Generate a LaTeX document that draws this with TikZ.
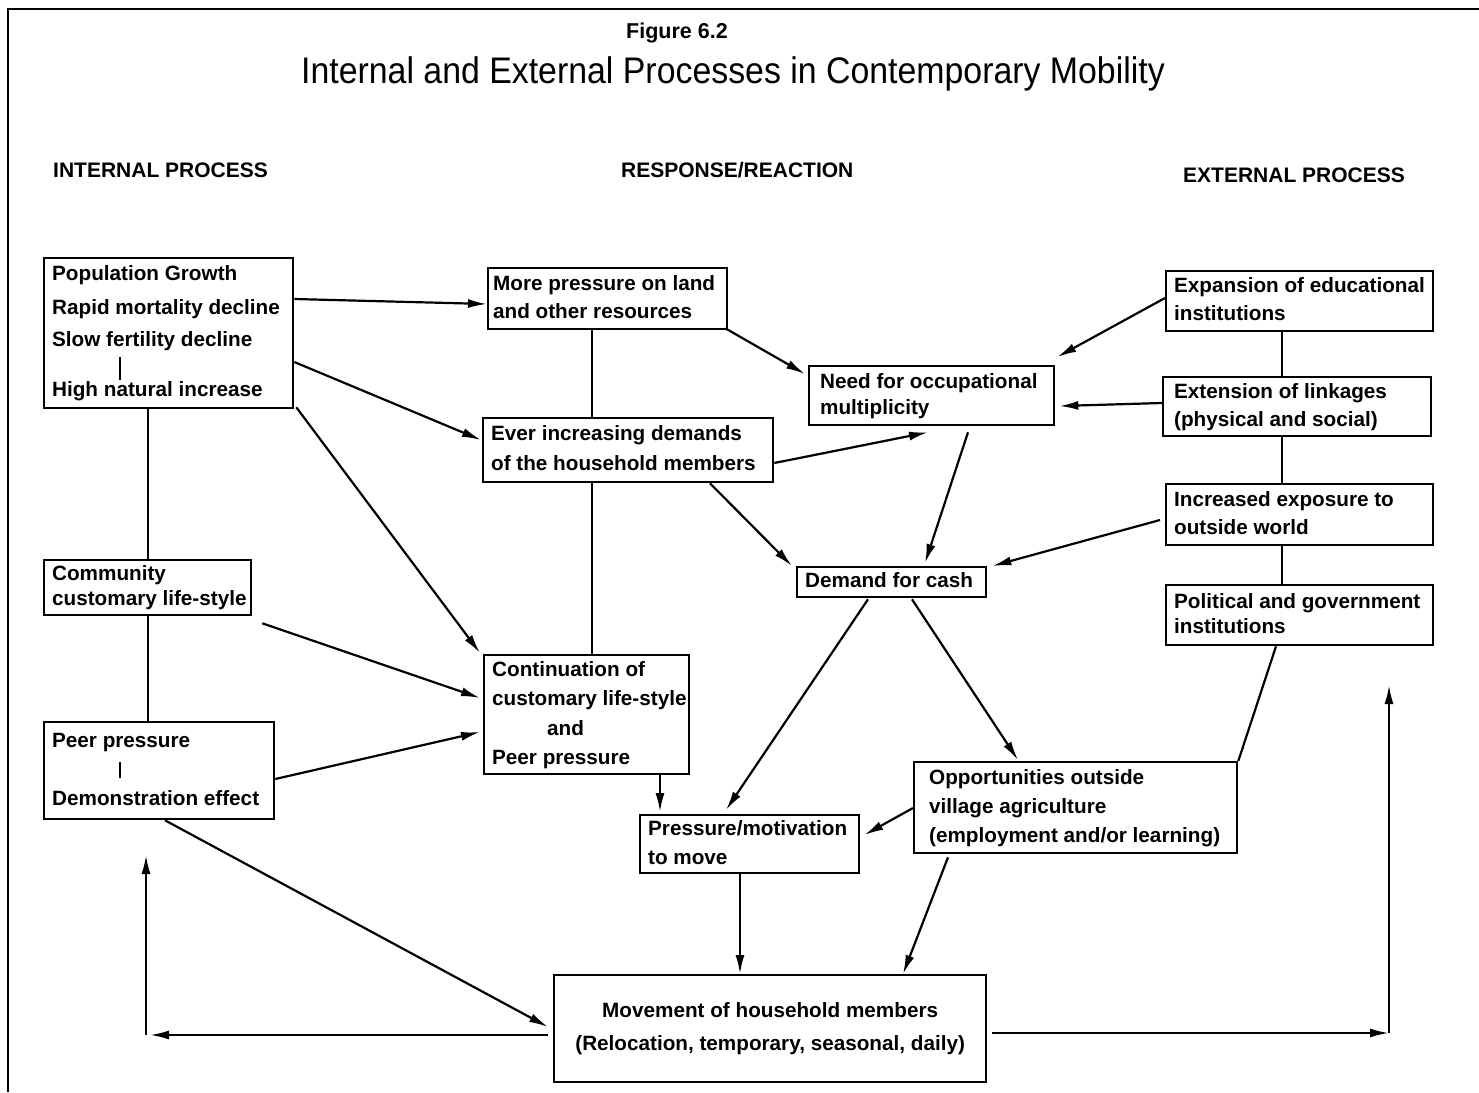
\documentclass[tikz,border=0pt]{standalone}
\usepackage{fontspec}
\setmainfont{Liberation Sans}
\usetikzlibrary{arrows.meta}

% left-aligned block of lines of fixed width
\newcommand\boxlines[2]{\makebox[#1][l]{\begin{tabular}{@{}l@{}}#2\end{tabular}}}

\begin{document}
\begin{tikzpicture}[x=1pt,y=-1pt,
  body/.style={font=\bfseries\fontsize{20.7}{29}\selectfont},
  box/.style={body,draw,line width=2.3pt,rectangle,anchor=north west,
    inner xsep=8pt,inner ysep=0pt},
  link/.style={line width=2.2pt},
  arr/.style={line width=2.2pt,-{Latex[length=19pt,width=9pt]}},
  head/.style={font=\bfseries\fontsize{21}{25}\selectfont,inner sep=0pt,anchor=base west},
  bar/.style={line width=2.4pt}]

\useasboundingbox (0,0) rectangle (1479,1092);
% page frame
\draw[line width=2.6pt] (8,1092) -- (8,9) -- (1479,9);

% titles
\node[font=\bfseries\fontsize{21.5}{25}\selectfont,inner sep=0pt,anchor=base] (fig) at (677,38) {Figure 6.2};
\node[font=\fontsize{37}{42}\selectfont,inner sep=0pt,anchor=base] (title) at (733,83)
  {\scalebox{0.915}[1]{Internal and External Processes in Contemporary Mobility}};

% column headings
\node[head] (hint) at (53,177) {INTERNAL PROCESS};
\node[head] (hres) at (621,177) {RESPONSE/REACTION};
\node[head] (hext) at (1183,182) {EXTERNAL PROCESS};

% internal process boxes
\node[box,minimum width=249,minimum height=150] (pop) at (43,257)
  {\boxlines{233pt}{Population Growth\\[5pt]Rapid mortality decline\\[3pt]Slow fertility decline\\[21pt]High natural increase}};
\node[box,minimum width=207,minimum height=55] (comm) at (43,559)
  {\boxlines{191pt}{Community\\[-4pt]customary life-style}};
\node[box,minimum width=230,minimum height=97] (peer) at (43,721)
  {\boxlines{214pt}{Peer pressure\\[29pt]Demonstration effect}};
\draw[bar] ([shift={(77,100)}]pop.north west) -- ([shift={(77,123)}]pop.north west);
\draw[bar] ([shift={(77,41)}]peer.north west) -- ([shift={(77,57)}]peer.north west);

% response / reaction boxes
\node[box,minimum width=239,minimum height=61,inner xsep=5pt] (more) at (487,267)
  {\boxlines{229pt}{More pressure on land\\[-1pt]and other resources}};
\node[box,minimum width=290,minimum height=64] (ever) at (482,417)
  {\boxlines{274pt}{Ever increasing demands\\[1pt]of the household members}};
\node[box,minimum width=245,minimum height=59,inner xsep=11pt] (need) at (808,365)
  {\boxlines{223pt}{Need for occupational\\[-3pt]multiplicity}};
\node[box,minimum width=189,minimum height=30] (cash) at (796,566)
  {\boxlines{173pt}{Demand for cash}};
\node[box,minimum width=205,minimum height=119] (cont) at (483,654)
  {\boxlines{189pt}{Continuation of\\[0pt]customary life-style\\[1pt]\hspace*{55pt}and\\[0pt]Peer pressure}};
\node[box,minimum width=219,minimum height=57] (pmot) at (639,814)
  {\boxlines{203pt}{Pressure/motivation\\[0pt]to move}};
\node[box,minimum width=323,minimum height=91,inner xsep=15pt] (oppo) at (913,761)
  {\boxlines{293pt}{Opportunities outside\\[0pt]village agriculture\\[0pt](employment and/or learning)}};
\node[box,minimum width=432,minimum height=107,align=center] (move) at (553,974)
  {Movement of household members\\[4pt](Relocation, temporary, seasonal, daily)};

% external process boxes
\node[box,minimum width=267,minimum height=60] (expa) at (1165,270)
  {\boxlines{251pt}{Expansion of educational\\[-1pt]institutions}};
\node[box,minimum width=268,minimum height=59,inner xsep=11pt] (exte) at (1162,376)
  {\boxlines{246pt}{Extension of linkages\\[-1pt](physical and social)}};
\node[box,minimum width=267,minimum height=61] (expo) at (1165,483)
  {\boxlines{251pt}{Increased exposure to\\[-1pt]outside world}};
\node[box,minimum width=267,minimum height=60] (poli) at (1165,584)
  {\boxlines{251pt}{Political and government\\[-4pt]institutions}};

% free ends of the feedback arrows
\coordinate (lcorner) at (146,1035);
\coordinate (lhead) at (150,1035);
\coordinate (ltop) at (146,855);
\coordinate (rcorner) at (1389,1033);
\coordinate (rtop) at (1389,685);

% internal column
\draw[arr] ([shift={(0,42)}]pop.north east) -- ([shift={(0,37)}]more.north west);
\draw[arr] ([shift={(0,105)}]pop.north east) -- ([shift={(-1,23)}]ever.north west);
\draw[arr] ([shift={(2,-2)}]pop.south east) -- ([shift={(-3,-1)}]cont.north west);
\draw[link] ([shift={(105,0)}]pop.south west) -- ([shift={(105,0)}]comm.north west);
\draw[link] ([shift={(105,0)}]comm.south west) -- ([shift={(105,0)}]peer.north west);
\draw[arr] ([shift={(10,7)}]comm.south east) -- ([shift={(-3,44)}]cont.north west);
\draw[arr] ([shift={(0,58)}]peer.north east) -- ([shift={(-3,78)}]cont.north west);
\draw[arr] ([shift={(122,0)}]peer.south west) -- ([shift={(-5,53)}]move.north west);

% response column
\draw[link] ([shift={(105,0)}]more.south west) -- ([shift={(110,0)}]ever.north west);
\draw[link] ([shift={(110,0)}]ever.south west) -- ([shift={(109,0)}]cont.north west);
\draw[arr] ([shift={(-3,-2)}]more.south east) -- ([shift={(-3,9)}]need.north west);
\draw[arr] ([shift={(0,46)}]ever.north east) -- ([shift={(120,6)}]need.south west);
\draw[arr] ([shift={(228,0)}]ever.south west) -- ([shift={(-4,0)}]cash.north west);
\draw[arr] ([shift={(160,6)}]need.south west) -- ([shift={(129,-3)}]cash.north west);
\draw[arr] ([shift={(72,1)}]cash.south west) -- ([shift={(87,-4)}]pmot.north west);
\draw[arr] ([shift={(116,1)}]cash.south west) -- ([shift={(105,-1)}]oppo.north west);
\draw[arr] ([shift={(177,0)}]cont.south west) -- ([shift={(21,-2)}]pmot.north west);
\draw[arr] ([shift={(0,47)}]oppo.north west) -- ([shift={(4,21)}]pmot.north east);
\draw[arr] ([shift={(101,0)}]pmot.south west) -- ([shift={(187,0)}]move.north west);
\draw[arr] ([shift={(35,3)}]oppo.south west) -- ([shift={(350,0)}]move.north west);

% external column
\draw[arr] ([shift={(0,28)}]expa.north west) -- ([shift={(2,-8)}]need.north east);
\draw[arr] ([shift={(0,27)}]exte.north west) -- ([shift={(4,41)}]need.north east);
\draw[arr] ([shift={(-5,37)}]expo.north west) -- ([shift={(5,0)}]cash.north east);
\draw[link] ([shift={(117,0)}]expa.south west) -- ([shift={(120,0)}]exte.north west);
\draw[link] ([shift={(120,0)}]exte.south west) -- ([shift={(117,0)}]expo.north west);
\draw[link] ([shift={(117,0)}]expo.south west) -- ([shift={(117,0)}]poli.north west);
\draw[link] ([shift={(111,0)}]poli.south west) -- (oppo.north east);

% feedback from movement
\draw[arr] ([shift={(-5,61)}]move.north west) -- (lhead);
\draw[arr] (lcorner) -- (ltop);
\draw[arr] ([shift={(5,59)}]move.north east) -- (rcorner);
\draw[arr] (rcorner) -- (rtop);
\end{tikzpicture}
\end{document}
